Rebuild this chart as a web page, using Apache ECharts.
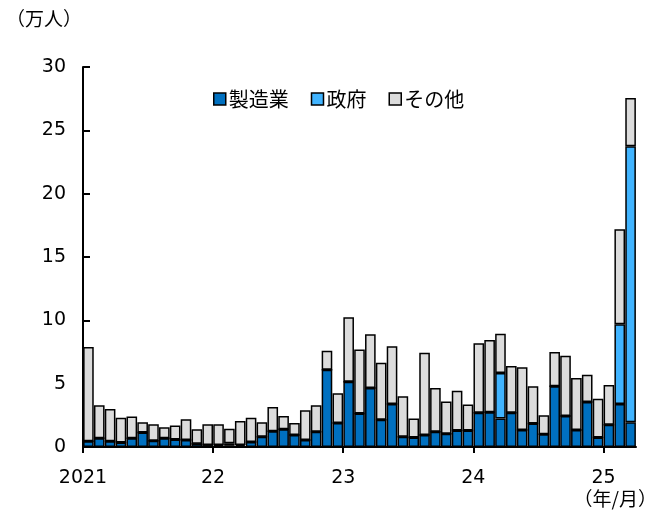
<!DOCTYPE html>
<html>
<head>
<meta charset="utf-8">
<script src="https://cdn.jsdelivr.net/npm/echarts@6/dist/echarts.min.js"></script>
<style>
  html, body { margin: 0; padding: 0; background: #fff; }
  #chart { width: 659px; height: 512px; }
</style>
</head>
<body>
<div id="chart"></div>
<script>
// Monthly figures, 2021/01 – 2025/03 (万人)
const months = [];
for (let y = 2021; y <= 2025; y++) {
  for (let m = 1; m <= 12; m++) {
    if (y === 2025 && m > 3) break;
    months.push(y + '/' + m);
  }
}

const seriesNames = ['製造業', '政府', 'その他'];

const manufacturing = [
  0.45, 0.7, 0.45, 0.35, 0.7, 1.15, 0.5, 0.7, 0.6, 0.55, 0.25, 0.15,
  0.1, 0.1, 0.05, 0.4, 0.8, 1.25, 1.4, 0.95, 0.55, 1.2, 6.1, 1.9,
  5.15, 2.65, 4.65, 2.15, 3.4, 0.8, 0.75, 0.95, 1.2, 1.05, 1.3, 1.3,
  2.7, 2.75, 2.25, 2.7, 1.35, 1.85, 1.0, 4.8, 2.45, 1.35, 3.55, 0.75,
  1.75, 3.4, 1.95
];

const government = [
  0, 0, 0, 0, 0, 0, 0, 0, 0, 0, 0, 0,
  0.05, 0.2, 0.1, 0, 0, 0, 0, 0, 0, 0, 0, 0,
  0, 0, 0, 0, 0, 0, 0, 0, 0, 0, 0, 0,
  0, 0, 3.6, 0, 0, 0, 0, 0, 0, 0, 0, 0,
  0, 6.3, 21.8
];

const others = [
  7.45, 2.6, 2.55, 1.95, 1.7, 0.8, 1.3, 0.85, 1.1, 1.65, 1.15, 1.65,
  1.65, 1.15, 1.9, 1.9, 1.15, 1.9, 1.05, 0.95, 2.35, 2.1, 1.5, 2.35,
  5.1, 5.05, 4.25, 4.5, 4.55, 3.2, 1.5, 6.5, 3.45, 2.55, 3.15, 2.05,
  5.5, 5.7, 3.1, 3.7, 4.95, 2.95, 1.5, 2.7, 4.75, 4.1, 2.15, 3.05,
  3.15, 7.5, 3.8
];

// Year marks sit on the boundary before each January
const yearTickPositions = [0, 12, 24, 36, 48];
const yearTickLabels = ['2021', '22', '23', '24', '25'];

const colors = ['#0070C0', '#41B4FF', '#DCDCDC'];
const numFont = 'DejaVu Sans';
const jpFont = '"Noto Sans CJK JP", sans-serif';

const chart = echarts.init(document.getElementById('chart'), null, { renderer: 'canvas' });

function barSeries(name, data, color) {
  return {
    name: name,
    type: 'bar',
    stack: 'total',
    xAxisIndex: 0,
    yAxisIndex: 0,
    barCategoryGap: '2%',
    data: data,
    itemStyle: { color: color, borderColor: '#000', borderWidth: 1.5 },
    emphasis: { disabled: true }
  };
}

chart.setOption({
  animation: false,
  backgroundColor: '#fff',
  color: colors,
  grid: { left: 83, right: 23, top: 67, bottom: 65, containLabel: false },
  legend: {
    top: 84,
    left: 208,
    itemWidth: 12,
    itemHeight: 12,
    itemGap: 22,
    icon: 'rect',
    itemStyle: { borderColor: '#000', borderWidth: 1.5 },
    textStyle: { fontFamily: jpFont, fontSize: 20, color: '#000', padding: [0, 0, 0, -2] },
    data: seriesNames
  },
  xAxis: [
    {
      type: 'category',
      data: months,
      boundaryGap: true,
      axisLine: { show: true, lineStyle: { color: '#000', width: 2 } },
      axisTick: { show: false },
      axisLabel: { show: false },
      splitLine: { show: false }
    },
    {
      type: 'value',
      position: 'bottom',
      min: 0,
      max: months.length,
      axisLine: { show: false },
      axisTick: {
        show: true,
        length: 6,
        lineStyle: { color: '#000', width: 2 },
        customValues: yearTickPositions
      },
      axisLabel: {
        show: true,
        margin: 22,
        fontFamily: numFont,
        fontSize: 19,
        color: '#000',
        customValues: yearTickPositions,
        formatter: function (v) {
          const i = yearTickPositions.indexOf(v);
          return i >= 0 ? yearTickLabels[i] : '';
        }
      },
      splitLine: { show: false }
    }
  ],
  yAxis: {
    type: 'value',
    min: 0,
    max: 30,
    interval: 5,
    axisLine: { show: true, lineStyle: { color: '#000', width: 2 } },
    axisTick: { show: true, inside: true, length: 7, lineStyle: { color: '#000', width: 2 } },
    axisLabel: { margin: 17, fontFamily: numFont, fontSize: 19, color: '#000' },
    splitLine: { show: false }
  },
  series: [
    barSeries(seriesNames[0], manufacturing, colors[0]),
    barSeries(seriesNames[1], government, colors[1]),
    barSeries(seriesNames[2], others, colors[2])
  ],
  graphic: [
    {
      type: 'text',
      left: 6,
      top: 9,
      style: { text: '（万人）', fontFamily: jpFont, fontSize: 19, fill: '#000' }
    },
    {
      type: 'text',
      right: 2,
      top: 489,
      style: { text: '（年/月）', fontFamily: jpFont, fontSize: 19, fill: '#000' }
    }
  ]
});
</script>
</body>
</html>
